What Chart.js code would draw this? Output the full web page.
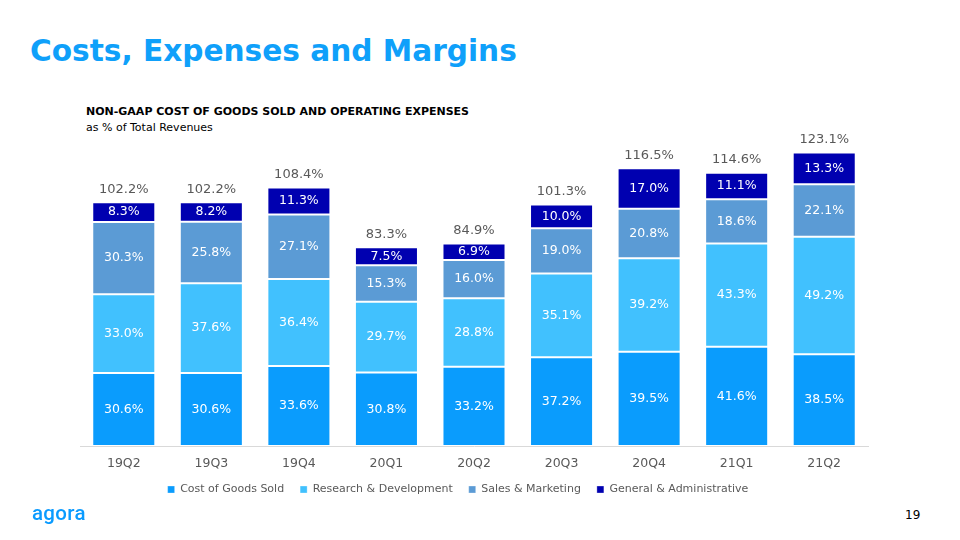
<!DOCTYPE html>
<html>
<head>
<meta charset="utf-8">
<script src="https://cdn.jsdelivr.net/npm/chart.js@4/dist/chart.umd.min.js"></script>
<style>
  html, body { margin: 0; padding: 0; background: #fff; }
  body { width: 960px; height: 540px; position: relative; overflow: hidden; font-family: "DejaVu Sans", Verdana, sans-serif; }
  #title { position: absolute; left: 30px; top: 34px; font-size: 29.6px; font-weight: bold; color: #0fa0fa; }
  #sub1 { position: absolute; left: 86px; top: 105px; font-size: 11px; font-weight: bold; color: #000; }
  #sub2 { position: absolute; left: 86px; top: 121px; font-size: 11px; color: #000; }
  #logo { position: absolute; left: 32px; top: 501px; font-family: Roboto, sans-serif; font-weight: 500; font-size: 20.5px; color: #0a9bff; letter-spacing: 0.3px; }
  #page { position: absolute; left: 905px; top: 508px; font-size: 12px; color: #000; }
  #wrap { position: absolute; left: 0; top: 130px; width: 960px; height: 375px; }
</style>
</head>
<body>
<div id="title">Costs, Expenses and Margins</div>
<div id="sub1">NON-GAAP COST OF GOODS SOLD AND OPERATING EXPENSES</div>
<div id="sub2">as % of Total Revenues</div>
<div id="wrap"><canvas id="c"></canvas></div>
<div id="logo">agora</div>
<div id="page">19</div>
<script>
const categories = ["19Q2","19Q3","19Q4","20Q1","20Q2","20Q3","20Q4","21Q1","21Q2"];
const cogs = [30.6, 30.6, 33.6, 30.8, 33.2, 37.2, 39.5, 41.6, 38.5];
const rnd  = [33.0, 37.6, 36.4, 29.7, 28.8, 35.1, 39.2, 43.3, 49.2];
const snm  = [30.3, 25.8, 27.1, 15.3, 16.0, 19.0, 20.8, 18.6, 22.1];
const gna  = [8.3, 8.2, 11.3, 7.5, 6.9, 10.0, 17.0, 11.1, 13.3];
const totals = [102.2, 102.2, 108.4, 83.3, 84.9, 101.3, 116.5, 114.6, 123.1];
const seriesNames = ["Cost of Goods Sold", "Research & Development", "Sales & Marketing", "General & Administrative"];
const colors = ["#0a9cfd", "#41c1fe", "#5b9bd5", "#0000b0"];

const FONT = "DejaVu Sans";

const labelPlugin = {
  id: 'labels',
  afterDatasetsDraw(chart) {
    const ctx = chart.ctx;
    ctx.save();
    ctx.textAlign = 'center';
    ctx.textBaseline = 'middle';
    ctx.font = "12.5px '" + FONT + "'";
    chart.data.datasets.forEach((ds, di) => {
      const meta = chart.getDatasetMeta(di);
      meta.data.forEach((el, i) => {
        const v = ds.data[i];
        const y = (el.y + el.base) / 2;
        ctx.fillStyle = '#ffffff';
        ctx.fillText(v.toFixed(1) + '%', el.x, y);
      });
    });
    const topMeta = chart.getDatasetMeta(chart.data.datasets.length - 1);
    ctx.fillStyle = '#595959';
    ctx.font = "13px '" + FONT + "'";
    topMeta.data.forEach((el, i) => {
      ctx.fillText(totals[i].toFixed(1) + '%', el.x, el.y - 13);
    });
    ctx.restore();
  }
};

// tighten the legend vertically and nudge it left, as in the slide
const SHRINK = 13, SHIFT_X = 16;
const legendShift = {
  id: 'legendShift',
  beforeLayout(chart) {
    const lg = chart.legend;
    if (!lg || lg._patched) return;
    lg._patched = true;
    const fit = lg.fit.bind(lg);
    lg.fit = function () { fit(); this.height -= SHRINK; };
    const draw = lg.draw.bind(lg);
    lg.draw = function () {
      const t = this.top, l = this.left, r = this.right;
      this.top = t - SHRINK;
      this.left = l - SHIFT_X;
      this.right = r - SHIFT_X;
      draw();
      this.top = t; this.left = l; this.right = r;
    };
  }
};

new Chart(document.getElementById('c'), {
  type: 'bar',
  data: {
    labels: categories,
    datasets: [cogs, rnd, snm, gna].map((d, i) => ({
      label: seriesNames[i],
      data: d,
      backgroundColor: colors[i],
      borderColor: 'rgba(255,255,255,0.3)',
      borderWidth: 1,
      borderSkipped: false,
      barPercentage: 0.72,
      categoryPercentage: 1.0
    }))
  },
  options: {
    responsive: true,
    maintainAspectRatio: false,
    animation: false,
    layout: { padding: { left: 80, right: 92, top: 6, bottom: 0 } },
    scales: {
      x: {
        stacked: true,
        grid: { display: false, drawTicks: false },
        border: { color: '#d9d9d9', width: 1 },
        ticks: { color: '#595959', font: { family: FONT, size: 12.5 }, padding: 10 }
      },
      y: {
        stacked: true,
        display: false,
        min: 0,
        max: 130
      }
    },
    plugins: {
      legend: {
        position: 'bottom',
        labels: {
          color: '#595959',
          font: { family: FONT, size: 11 },
          boxWidth: 7,
          boxHeight: 7,
          padding: 16
        }
      },
      tooltip: { enabled: false }
    }
  },
  plugins: [labelPlugin, legendShift]
});
</script>
</body>
</html>
